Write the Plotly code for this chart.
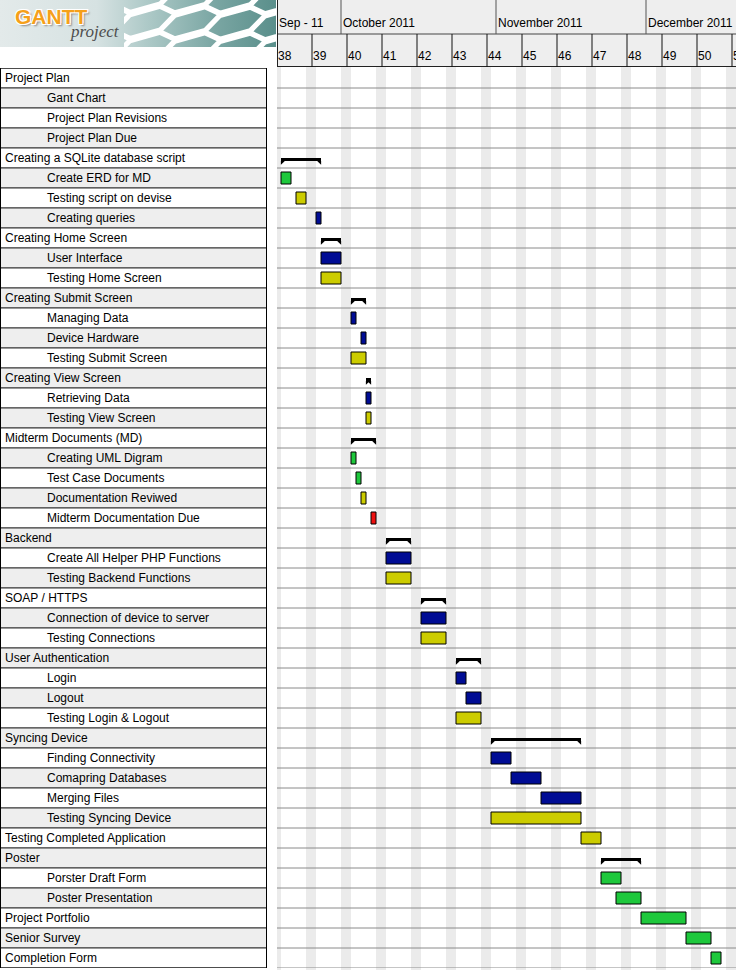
import math
import pandas as pd
import plotly.graph_objects as go

W, H = 736, 970

# ---------------- data ----------------
tasks = [
    "Project Plan", "Gant Chart", "Project Plan Revisions", "Project Plan Due",
    "Creating a SQLite database script", "Create ERD for MD", "Testing script on devise", "Creating queries",
    "Creating Home Screen", "User Interface", "Testing Home Screen",
    "Creating Submit Screen", "Managing Data", "Device Hardware", "Testing Submit Screen",
    "Creating View Screen", "Retrieving Data", "Testing View Screen",
    "Midterm Documents (MD)", "Creating UML Digram", "Test Case Documents", "Documentation Reviwed",
    "Midterm Documentation Due",
    "Backend", "Create All Helper PHP Functions", "Testing Backend Functions",
    "SOAP / HTTPS", "Connection of device to server", "Testing Connections",
    "User Authentication", "Login", "Logout", "Testing Login & Logout",
    "Syncing Device", "Finding Connectivity", "Comapring Databases", "Merging Files", "Testing Syncing Device",
    "Testing Completed Application",
    "Poster", "Porster Draft Form", "Poster Presentation",
    "Project Portfolio", "Senior Survey", "Completion Form",
]
levels = [0, 1, 1, 1,
          0, 1, 1, 1,
          0, 1, 1,
          0, 1, 1, 1,
          0, 1, 1,
          0, 1, 1, 1, 1,
          0, 1, 1,
          0, 1, 1,
          0, 1, 1, 1,
          0, 1, 1, 1, 1,
          0,
          0, 1, 1,
          0, 0, 0]
starts = [None, None, None, None,
          "2011-09-19", "2011-09-19", "2011-09-22", "2011-09-26",
          "2011-09-27", "2011-09-27", "2011-09-27",
          "2011-10-03", "2011-10-03", "2011-10-05", "2011-10-03",
          "2011-10-06", "2011-10-06", "2011-10-06",
          "2011-10-03", "2011-10-03", "2011-10-04", "2011-10-05", "2011-10-07",
          "2011-10-10", "2011-10-10", "2011-10-10",
          "2011-10-17", "2011-10-17", "2011-10-17",
          "2011-10-24", "2011-10-24", "2011-10-26", "2011-10-24",
          "2011-10-31", "2011-10-31", "2011-11-04", "2011-11-10", "2011-10-31",
          "2011-11-18",
          "2011-11-22", "2011-11-22", "2011-11-25",
          "2011-11-30", "2011-12-09", "2011-12-14"]
lengths = [0, 0, 0, 0,
           8, 2, 2, 1,
           4, 4, 4,
           3, 1, 1, 3,
           1, 1, 1,
           5, 1, 1, 1, 1,
           5, 5, 5,
           5, 5, 5,
           5, 2, 3, 5,
           18, 4, 6, 8, 18,
           4,
           8, 4, 5,
           9, 5, 2]
kinds = [None, None, None, None,
         "summary", "green", "yellow", "blue",
         "summary", "blue", "yellow",
         "summary", "blue", "blue", "yellow",
         "summary", "blue", "yellow",
         "summary", "green", "green", "yellow", "red",
         "summary", "blue", "yellow",
         "summary", "blue", "yellow",
         "summary", "blue", "blue", "yellow",
         "summary", "blue", "blue", "blue", "yellow",
         "yellow",
         "summary", "green", "green",
         "green", "green", "green"]

month_labels = ["Sep - 11", "October 2011", "November 2011", "December 2011"]
month_starts = [None, "2011-10-01", "2011-11-01", "2011-12-01"]
week_labels = [str(w) for w in range(38, 52)]

palette = {"blue": "#000c94", "yellow": "#cccc00", "green": "#1ec83c", "red": "#ee1010"}

# ---------------- geometry ----------------
ORIGIN = pd.Timestamp("2011-09-19")
PX_DAY = 5.0
CHART_LEFT = 277
X0 = -0.8                     # axis start in days (277 px)
X1 = X0 + (W - CHART_LEFT) / PX_DAY
ROW_TOP, ROW_BOT = 68, 968
NROWS = len(tasks)
HDR_MID = 34


def dd(s):
    return (pd.Timestamp(s) - ORIGIN).days


def py(p):  # pixel y -> paper y
    return (H - p) / H


def px(p):  # pixel x -> paper x
    return p / W


fig = go.Figure()

# ---------------- logo (decoration) ----------------
LW, LH = 276, 47
fig.add_trace(go.Scatter(
    x=[0, LW, LW, 0, 0], y=[0, 0, LH, LH, 0], mode="lines", fill="toself",
    fillgradient=dict(type="horizontal",
                      colorscale=[[0, "#e3eaea"], [0.35, "#d6e2e2"], [0.55, "#aac7c5"],
                                  [0.78, "#7aa6a3"], [1, "#5a8f8b"]]),
    line=dict(width=0), xaxis="x3", yaxis="y3", showlegend=False, hoverinfo="skip"))

hx, hy = [], []
R, HV = 30, 13
for ci in range(0, 8):
    cx = 100 + ci * 1.5 * R
    for rj in range(-2, 6):
        cy = rj * 2 * HV + (HV if ci % 2 else 0)
        for a in range(7):
            ang = math.radians(60 * a)
            x = cx + R * math.cos(ang)
            y = cy + HV * math.sin(ang)
            y = y - 0.28 * (x - 150) + 8
            hx.append(x)
            hy.append(y)
        hx.append(None)
        hy.append(None)
fig.add_trace(go.Scatter(x=hx, y=hy, mode="lines", line=dict(color="white", width=4),
                         xaxis="x4", yaxis="y3", showlegend=False, hoverinfo="skip"))

# ---------------- bars ----------------
leaf_y, leaf_base, leaf_len, leaf_col = [], [], [], []
sum_y, sum_base, sum_len = [], [], []
for i, (s, L, k) in enumerate(zip(starts, lengths, kinds)):
    if s is None:
        continue
    if k == "summary":
        sum_y.append(i + 0.5 + 0.075)
        sum_base.append(dd(s))
        sum_len.append(L)
    else:
        leaf_y.append(i + 0.5)
        leaf_base.append(dd(s))
        leaf_len.append(L)
        leaf_col.append(palette[k])

fig.add_trace(go.Bar(
    orientation="h", y=leaf_y, x=leaf_len, base=leaf_base, width=0.6,
    marker=dict(color=leaf_col, line=dict(color="black", width=1)),
    xaxis="x", yaxis="y", showlegend=False, hoverinfo="skip"))

fig.add_trace(go.Bar(
    orientation="h", y=sum_y, x=sum_len, base=sum_base, width=0.15,
    marker=dict(color="black", line=dict(width=0)),
    xaxis="x", yaxis="y", showlegend=False, hoverinfo="skip"))

tip_x, tip_y, tip_sym = [], [], []
for yy, b, L in zip(sum_y, sum_base, sum_len):
    bottom = yy + 0.075
    tip_x += [b + 1.2 / PX_DAY, b + L - 1.2 / PX_DAY]
    tip_y += [bottom + 1.2 / 20, bottom + 1.2 / 20]
    tip_sym += ["triangle-nw", "triangle-ne"]
fig.add_trace(go.Scatter(
    x=tip_x, y=tip_y, mode="markers",
    marker=dict(symbol=tip_sym, size=4.4, color="black", line=dict(width=0)),
    xaxis="x", yaxis="y", showlegend=False, hoverinfo="skip", cliponaxis=False))

shapes = []
annotations = []

# weekend stripes
for k in range(-1, 14):
    sat = 5 + 7 * k
    shapes.append(dict(type="rect", xref="x", yref="paper", x0=sat, x1=sat + 2,
                       y0=0, y1=py(ROW_TOP - 1), fillcolor="#ebebeb",
                       line=dict(width=0), layer="below"))
# horizontal row lines in chart
for k in range(1, NROWS + 1):
    shapes.append(dict(type="line", xref="x domain", yref="y", x0=0, x1=1, y0=k, y1=k,
                       line=dict(color="#8a8a8a", width=1), layer="below"))

# header
shapes.append(dict(type="rect", xref="x domain", yref="paper", x0=0, x1=1,
                   y0=py(ROW_TOP - 1), y1=1, fillcolor="#eeeeee", line=dict(width=0)))
shapes.append(dict(type="line", xref="x domain", yref="paper", x0=0, x1=1,
                   y0=py(HDR_MID), y1=py(HDR_MID), line=dict(color="#444", width=1)))
shapes.append(dict(type="line", xref="x domain", yref="paper", x0=0, x1=1,
                   y0=py(ROW_TOP - 1.5), y1=py(ROW_TOP - 1.5), line=dict(color="#222", width=1)))
shapes.append(dict(type="line", xref="x", yref="paper", x0=X0 + 0.1, x1=X0 + 0.1,
                   y0=py(ROW_TOP - 1), y1=1, line=dict(color="#222", width=1)))

month_x = [X0] + [dd(m) for m in month_starts[1:]]
for i, (mx, lab) in enumerate(zip(month_x, month_labels)):
    if i > 0:
        shapes.append(dict(type="line", xref="x", yref="paper", x0=mx, x1=mx,
                           y0=py(HDR_MID), y1=1, line=dict(color="#555", width=1)))
    annotations.append(dict(x=mx + 0.3, y=py(23), xref="x", yref="paper", text=lab,
                            showarrow=False, xanchor="left", yanchor="middle", xshift=-2,
                            font=dict(family="Liberation Sans", size=12, color="black")))

for k, lab in enumerate(week_labels):
    wx = X0 + 7 * k
    if k > 0:
        shapes.append(dict(type="line", xref="x", yref="paper", x0=wx, x1=wx,
                           y0=py(ROW_TOP - 1), y1=py(HDR_MID), line=dict(color="#111", width=1)))
    annotations.append(dict(x=wx + 0.2, y=py(56), xref="x", yref="paper", text=lab,
                            showarrow=False, xanchor="left", yanchor="middle", xshift=-2,
                            font=dict(family="Liberation Sans", size=12, color="black")))

# left task table
for i, (name, lv) in enumerate(zip(tasks, levels)):
    shapes.append(dict(type="rect", xref="paper", yref="y", x0=px(0.5), x1=px(266.5),
                       y0=i, y1=i + 1, fillcolor="#eeeeee" if i % 2 else "#ffffff",
                       line=dict(color="#333333", width=1)))
    annotations.append(dict(x=px(5 if lv == 0 else 47), y=i + 0.5, xref="paper", yref="y",
                            text=name, showarrow=False, xanchor="left", yanchor="middle",
                            xshift=-2,
                            font=dict(family="Liberation Sans", size=12, color="black")))
shapes.append(dict(type="rect", xref="paper", yref="y", x0=px(0.5), x1=px(266.5),
                   y0=0, y1=NROWS, line=dict(color="black", width=1)))

annotations.append(dict(x=px(13), y=py(16), xref="paper", yref="paper", text="<b>GANTT</b>",
                        showarrow=False, xanchor="left", yanchor="middle",
                        font=dict(family="Liberation Sans", size=21, color="#f5a01a",
                                  shadow="1px 1px 0 #fff, -1px -1px 0 #fff, 1px -1px 0 #fff, -1px 1px 0 #fff, 2px 2px 2px #888")))
annotations.append(dict(x=px(68), y=py(32), xref="paper", yref="paper", text="project",
                        showarrow=False, xanchor="left", yanchor="middle",
                        font=dict(family="Liberation Serif", size=17, color="#4d4d4d", style="italic")))

fig.update_layout(
    width=W, height=H, margin=dict(l=0, r=0, t=0, b=0, pad=0),
    paper_bgcolor="white", plot_bgcolor="rgba(0,0,0,0)", barmode="overlay",
    xaxis=dict(domain=[px(CHART_LEFT), 1], range=[X0, X1], showgrid=False, zeroline=False,
               showticklabels=False, ticks="", fixedrange=True),
    yaxis=dict(domain=[py(ROW_BOT), py(ROW_TOP)], range=[NROWS, 0], showgrid=False,
               zeroline=False, showticklabels=False, ticks="", fixedrange=True),
    xaxis3=dict(domain=[0, px(LW)], range=[0, LW], visible=False, fixedrange=True),
    xaxis4=dict(domain=[px(124), px(LW)], range=[124, LW], visible=False, fixedrange=True),
    yaxis3=dict(domain=[py(LH), 1], range=[LH, 0], visible=False, fixedrange=True),
    shapes=shapes, annotations=annotations, showlegend=False,
)

fig.write_html("out.html", config={"displayModeBar": False, "staticPlot": True})
